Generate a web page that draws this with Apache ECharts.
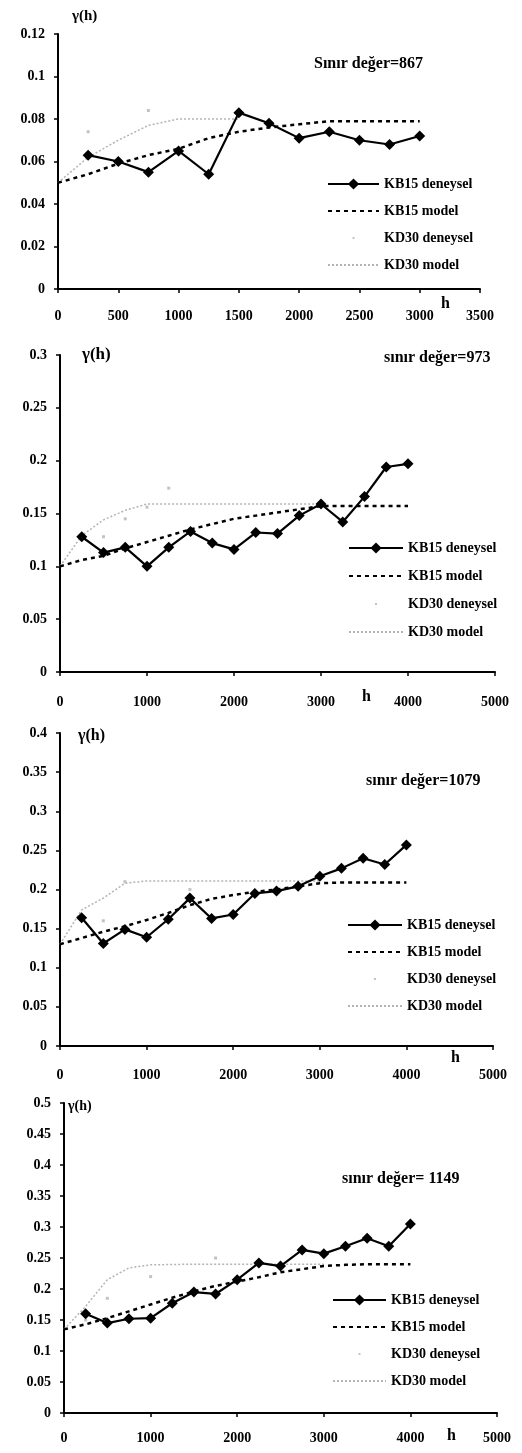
<!DOCTYPE html>
<html lang="tr">
<head>
<meta charset="UTF-8">
<title>Variogram</title>
<script src="https://cdn.jsdelivr.net/npm/echarts@6/dist/echarts.min.js"></script>
<style>html, body { margin: 0; padding: 0; background: #fff; }</style>
</head>
<body>
<div id="main" style="width: 522px; height: 1453px;"></div>
<script>
// ---- veriler ----
var expH = [250, 500, 750, 1000, 1250, 1500, 1750, 2000, 2250, 2500, 2750, 3000, 3250, 3500, 3750, 4000];
var modH = [0, 250, 500, 750, 1000, 1250, 1500, 1750, 2000, 2250, 2500, 2750, 3000, 3250, 3500, 3750, 4000];

// panel 1
var kb15Exp1 = [0.063, 0.060, 0.055, 0.065, 0.054, 0.083, 0.078, 0.071, 0.074, 0.070, 0.068, 0.072];
var kb15Mod1 = [0.050, 0.054, 0.059, 0.063, 0.066, 0.071, 0.074, 0.076, 0.0775, 0.079, 0.079, 0.079, 0.079];
var kd30ModH1 = [0, 250, 500, 750, 1000, 1250, 1500];
var kd30Mod1 = [0.050, 0.062, 0.070, 0.077, 0.080, 0.080, 0.080];
var kd30ExpH1 = [250, 750];
var kd30Exp1 = [0.074, 0.084];

// panel 2
var kb15Exp2 = [0.128, 0.113, 0.118, 0.100, 0.118, 0.133, 0.122, 0.116, 0.132, 0.131, 0.148, 0.159, 0.142, 0.166, 0.194, 0.197];
var kb15Mod2 = [0.100, 0.106, 0.110, 0.117, 0.123, 0.129, 0.135, 0.140, 0.145, 0.148, 0.151, 0.154, 0.157, 0.157, 0.157, 0.157, 0.157];
var kd30ModH2 = [0, 250, 500, 750, 1000, 1500, 2000, 2500, 3000];
var kd30Mod2 = [0.100, 0.129, 0.144, 0.153, 0.159, 0.159, 0.159, 0.159, 0.159];
var kd30ExpH2 = [500, 750, 1000, 1250];
var kd30Exp2 = [0.128, 0.145, 0.156, 0.174];

// panel 3
var kb15Exp3 = [0.164, 0.131, 0.149, 0.139, 0.162, 0.189, 0.163, 0.168, 0.195, 0.198, 0.204, 0.217, 0.227, 0.240, 0.232, 0.257];
var kb15Mod3 = [0.130, 0.138, 0.146, 0.153, 0.161, 0.170, 0.180, 0.188, 0.193, 0.197, 0.200, 0.204, 0.208, 0.209, 0.209, 0.209, 0.209];
var kd30ModH3 = [0, 250, 500, 750, 1000, 1500, 2000, 2500, 3000];
var kd30Mod3 = [0.130, 0.174, 0.189, 0.208, 0.211, 0.211, 0.211, 0.211, 0.211];
var kd30ExpH3 = [500, 750, 1500];
var kd30Exp3 = [0.160, 0.210, 0.200];

// panel 4
var kb15Exp4 = [0.160, 0.145, 0.152, 0.153, 0.177, 0.195, 0.192, 0.215, 0.242, 0.237, 0.263, 0.257, 0.269, 0.282, 0.269, 0.305];
var kb15Mod4 = [0.135, 0.143, 0.153, 0.164, 0.175, 0.186, 0.196, 0.205, 0.212, 0.219, 0.227, 0.232, 0.237, 0.239, 0.240, 0.240, 0.240];
var kd30ModH4 = [0, 250, 500, 750, 1000, 1500, 2000, 2500, 3000];
var kd30Mod4 = [0.135, 0.172, 0.215, 0.234, 0.239, 0.240, 0.240, 0.240, 0.240];
var kd30ExpH4 = [250, 500, 1000, 1750];
var kd30Exp4 = [0.150, 0.185, 0.220, 0.250];

// eksen degerleri
var yMax = [0.12, 0.3, 0.4, 0.5];
var yStep = [0.02, 0.05, 0.05, 0.05];
var xMax = [3500, 5000, 5000, 5000];
var xStep = [500, 1000, 1000, 1000];
var sillText = ['Sınır değer=867', 'sınır değer=973', 'sınır değer=1079', 'sınır değer= 1149'];
var names = ['KB15 deneysel', 'KB15 model', 'KD30 deneysel', 'KD30 model'];

var panels = [
    {kb15Exp: kb15Exp1, kb15Mod: kb15Mod1, kd30ModH: kd30ModH1, kd30Mod: kd30Mod1, kd30ExpH: kd30ExpH1, kd30Exp: kd30Exp1},
    {kb15Exp: kb15Exp2, kb15Mod: kb15Mod2, kd30ModH: kd30ModH2, kd30Mod: kd30Mod2, kd30ExpH: kd30ExpH2, kd30Exp: kd30Exp2},
    {kb15Exp: kb15Exp3, kb15Mod: kb15Mod3, kd30ModH: kd30ModH3, kd30Mod: kd30Mod3, kd30ExpH: kd30ExpH3, kd30Exp: kd30Exp3},
    {kb15Exp: kb15Exp4, kb15Mod: kb15Mod4, kd30ModH: kd30ModH4, kd30Mod: kd30Mod4, kd30ExpH: kd30ExpH4, kd30Exp: kd30Exp4}
];

function zip(xs, ys) {
    var out = [];
    for (var i = 0; i < ys.length; i++) out.push([xs[i], ys[i]]);
    return out;
}

var FONT = 'Liberation Serif';

// layout
var grids = [
    {left: 58, top: 34, width: 422, height: 255},
    {left: 60, top: 355, width: 435, height: 317},
    {left: 60, top: 733, width: 433, height: 313},
    {left: 64, top: 1103, width: 433, height: 310}
];
var xLabelMargin = [20, 23, 22, 18];
var legendPos = [
    {left: 322, top: 172, itemWidth: 51, itemGap: 13},
    {left: 343, top: 536, itemWidth: 54, itemGap: 14},
    {left: 342, top: 913, itemWidth: 54, itemGap: 13},
    {left: 327, top: 1288, itemWidth: 53, itemGap: 13}
];
var gammaPos = [[72, 9, 15], [82, 346, 17], [78, 728, 16], [68, 1099, 14]];
var sillPos = [[314, 56], [384, 350], [366, 773], [342, 1171]];
var hPos = [[441, 296], [362, 689], [451, 1050], [447, 1428]];

var xAxes = [], yAxes = [], series = [], legends = [], graphics = [];

for (var i = 0; i < 4; i++) {
    var p = panels[i];
    xAxes.push({
        type: 'value', gridIndex: i, min: 0, max: xMax[i], interval: xStep[i],
        axisLine: {lineStyle: {color: '#000', width: 2}},
        axisTick: {show: true, length: 4, lineStyle: {color: '#000', width: 1.5}},
        axisLabel: {
            color: '#000', fontFamily: FONT, fontSize: 14, fontWeight: 'bold', margin: xLabelMargin[i],
            formatter: function (v) { return String(v); }
        },
        splitLine: {show: false}
    });
    yAxes.push({
        type: 'value', gridIndex: i, min: 0, max: yMax[i], interval: yStep[i],
        axisLine: {show: true, lineStyle: {color: '#000', width: 2}},
        axisTick: {show: true, length: 4, lineStyle: {color: '#000', width: 1.5}},
        axisLabel: {color: '#000', fontFamily: FONT, fontSize: 14, fontWeight: 'bold', margin: 13},
        splitLine: {show: false}
    });

    series.push({
        name: 'KD30 model', type: 'line', xAxisIndex: i, yAxisIndex: i,
        data: zip(p.kd30ModH, p.kd30Mod), symbol: 'none',
        lineStyle: {color: '#b4b4b4', width: 1.5, type: [2, 2]},
        itemStyle: {color: '#b4b4b4'}, z: 1
    });
    series.push({
        name: 'KD30 deneysel', type: 'scatter', xAxisIndex: i, yAxisIndex: i,
        data: zip(p.kd30ExpH, p.kd30Exp), symbol: 'rect', symbolSize: 3,
        itemStyle: {color: '#b4b4b4'}, z: 1
    });
    series.push({
        name: 'KB15 model', type: 'line', xAxisIndex: i, yAxisIndex: i,
        data: zip(modH, p.kb15Mod), symbol: 'none',
        lineStyle: {color: '#000', width: 2.5, type: [4, 4]},
        itemStyle: {color: '#000'}, z: 2
    });
    series.push({
        name: 'KB15 deneysel', type: 'line', xAxisIndex: i, yAxisIndex: i,
        data: zip(expH, p.kb15Exp), symbol: 'diamond', symbolSize: 11,
        lineStyle: {color: '#000', width: 2.2},
        itemStyle: {color: '#000'}, z: 3
    });

    var lp = legendPos[i];
    legends.push({
        left: lp.left, top: lp.top, orient: 'vertical',
        itemWidth: lp.itemWidth, itemHeight: 14, itemGap: lp.itemGap,
        textStyle: {color: '#000', fontFamily: FONT, fontSize: 14, fontWeight: 'bold'},
        data: [
            names[0],
            {name: names[1], itemStyle: {opacity: 0}},
            {name: names[2], icon: 'path://M0,0L0,0M50,14L50,14M24,6L26,6L26,8L24,8Z'},
            {name: names[3], itemStyle: {opacity: 0}}
        ],
        selectedMode: false
    });

    graphics.push({type: 'text', left: gammaPos[i][0], top: gammaPos[i][1],
        style: {text: 'γ(h)', font: 'bold ' + gammaPos[i][2] + 'px "' + FONT + '"', fill: '#000'}});
    graphics.push({type: 'text', left: sillPos[i][0], top: sillPos[i][1],
        style: {text: sillText[i], font: 'bold 16px "' + FONT + '"', fill: '#000'}});
    graphics.push({type: 'text', left: hPos[i][0], top: hPos[i][1],
        style: {text: 'h', font: 'bold 16px "' + FONT + '"', fill: '#000'}});
}

var myChart = echarts.init(document.getElementById('main'), null, {renderer: 'canvas'});
myChart.setOption({
    backgroundColor: '#fff',
    animation: false,
    grid: grids,
    xAxis: xAxes,
    yAxis: yAxes,
    legend: legends,
    graphic: graphics,
    series: series
});
</script>
</body>
</html>
